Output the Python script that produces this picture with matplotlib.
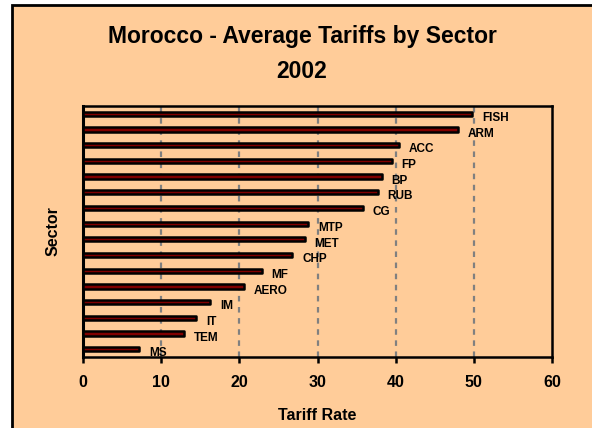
import matplotlib
matplotlib.use("Agg")
import matplotlib.pyplot as plt
from matplotlib.patches import Rectangle

sectors = ["FISH", "ARM", "ACC", "FP", "BP", "RUB", "CG", "MTP", "MET",
           "CHP", "MF", "AERO", "IM", "IT", "TEM", "MS"]
tariffs = [49.8, 48.0, 40.4, 39.5, 38.2, 37.7, 35.8, 28.8, 28.4,
           26.8, 22.9, 20.6, 16.3, 14.5, 12.9, 7.2]
xticks = [0, 10, 20, 30, 40, 50, 60]

plt.rcParams['font.family'] = ['Liberation Sans', 'DejaVu Sans']

W, H = 592, 428
fig = plt.figure(figsize=(W/100, H/100), dpi=100, facecolor='white')
bg = Rectangle((12/W, -0.1), 1.2, 1 - 5/H + 0.1, transform=fig.transFigure,
               facecolor='#FFCC99', edgecolor='black', linewidth=2, zorder=-10)
fig.add_artist(bg)

ax = fig.add_axes([83/W, 1 - 357/H, (552-83)/W, (357-106)/H])
ax.set_zorder(1)
ax.set_facecolor('#FFCC99')

n = len(sectors)
ypos = [n - 1 - i for i in range(n)]
ax.barh(ypos, tariffs, height=0.27, color='#800000', edgecolor='black',
        linewidth=1.8, zorder=3, joinstyle='round')
for y, v, s in zip(ypos, tariffs, sectors):
    ax.annotate(s, (v, y), xytext=(7, -3), textcoords='offset points',
                ha='left', va='center', fontsize=8.5, fontweight='bold', zorder=4)

ax.set_xlim(0, 60)
ax.set_ylim(-0.5, n - 0.5)
ax.set_xticks(xticks)
ax.set_xticklabels([str(t) for t in xticks], fontsize=11.5, fontweight='bold')
ax.set_yticks([])
for xv in xticks[1:-1]:
    ax.axvline(xv, color='#808080', linewidth=1.6, linestyle=(0, (2.5, 2.5)), zorder=1)
for sp in ax.spines.values():
    sp.set_linewidth(1.8)
    sp.set_color('black')
ax.spines['left'].set_linewidth(2.2)
ax.tick_params(axis='x', direction='out', length=4.3, width=1.8, pad=9)

ax.set_xlabel("Tariff Rate", fontsize=11.5, fontweight='bold')
ax.set_ylabel("Sector", fontsize=11.5, fontweight='bold')
ax.xaxis.set_label_coords(0.5, -(408 - 357) / 251)
ax.yaxis.set_label_coords(-(83 - 61) / 469, 0.5)

fig.text(302/W, 1 - 36/H, "Morocco - Average Tariffs by Sector",
         ha='center', va='center', fontsize=16.5, fontweight='bold')
fig.text(302/W, 1 - 72/H, "2002",
         ha='center', va='center', fontsize=16.5, fontweight='bold')

fig.savefig("out.png", dpi=100, facecolor='white')
